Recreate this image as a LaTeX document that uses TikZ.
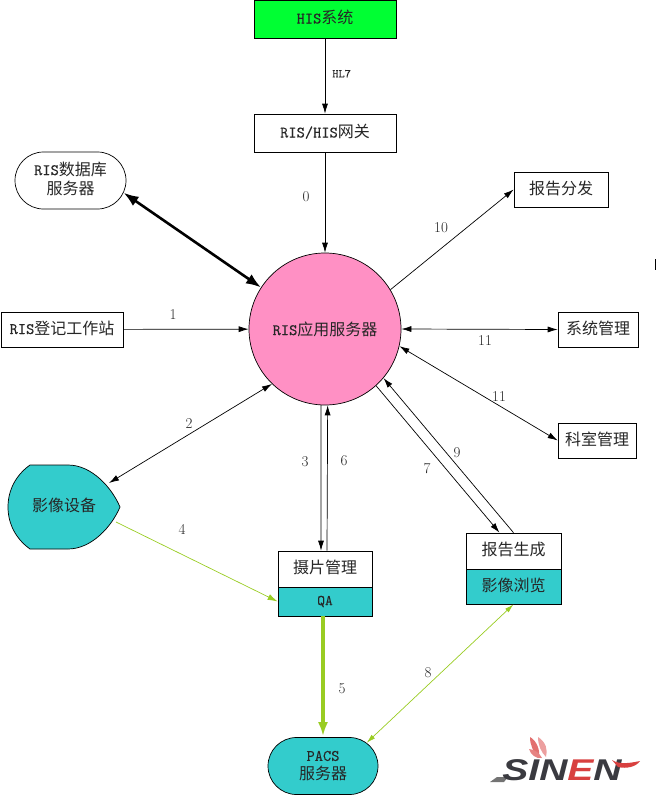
\documentclass[tikz,border=0pt]{standalone}
\usepackage{fontspec}
\usetikzlibrary{arrows.meta,shapes.misc}
\setmonofont{Latin Modern Mono}[RawFeature={embolden=0.25}]
\newfontfamily\cjkf{Noto Sans CJK SC}[Scale=1]
\newfontfamily\logof{Liberation Sans}
\newcommand{\cn}[1]{{\cjkf #1}}
\definecolor{teal1}{HTML}{33CCCC}
\definecolor{pink1}{HTML}{FF90C4}
\definecolor{green1}{HTML}{00FF33}
\definecolor{olive1}{HTML}{99CC22}
\definecolor{logoD}{HTML}{3A3A40}
\definecolor{logoR}{HTML}{D8403F}
\tikzset{
  x=1pt,y=-1pt,
  every node/.style={font=\fontsize{16}{19}\selectfont\ttfamily,inner sep=0pt,text=black!85},
  box/.style={draw=black,line width=0.7pt,minimum width=#1,fill=white},
  num/.style={font=\fontsize{15}{17}\selectfont\rmfamily,text=black!85,xshift=1pt,yshift=-1pt},
  conn/.style={draw=black,line width=0.7pt,-{Latex[length=10pt,width=6pt]}},
  both/.style={draw=black,line width=0.7pt,{Latex[length=10pt,width=6pt]}-{Latex[length=10pt,width=6pt]}},
  heavy/.style={draw=black,line width=2.6pt,{Latex[length=15pt,width=11pt]}-{Latex[length=15pt,width=11pt]}},
  gthin/.style={draw=olive1,line width=0.7pt,-{Latex[length=10pt,width=6pt]}},
  gboth/.style={draw=olive1,line width=0.7pt,{Latex[length=9pt,width=5pt]}-{Latex[length=9pt,width=5pt]}},
  gheavy/.style={draw=olive1,line width=3.2pt,-{Latex[length=14pt,width=10pt]}},
  pill/.style={rounded rectangle,draw=black,line width=0.7pt,align=center},
  up/.style={text height=13pt,text depth=4pt},
}
\begin{document}
\begin{tikzpicture}
\useasboundingbox (0,0) rectangle (656,795);
% nodes
\node[box=142pt,minimum height=38pt,fill=green1,up] (his) at (325,19) {HIS\cn{系统}};
\node[box=142pt,minimum height=38pt,up] (gw) at (325,133) {RIS/HIS\cn{网关}};
\node[box=94pt,minimum height=35pt,up] (dist) at (561,189.5) {\cn{报告分发}};
\node[box=80pt,minimum height=35pt,up] (sys) at (598,329.5) {\cn{系统管理}};
\node[box=78pt,minimum height=35pt,up] (dept) at (597,440.5) {\cn{科室管理}};
\node[box=122pt,minimum height=35pt,up] (reg) at (62,329.5) {RIS\cn{登记工作站}};
\node[circle,draw=black,line width=0.7pt,fill=pink1,minimum size=152pt] (app) at (325,329) {RIS\cn{应用服务器}};
\node[pill,minimum width=111pt,minimum height=57pt,fill=white] (db) at (70.5,180.5) {};
\node[align=center] (dbt) at (70.5,178.5) {RIS\cn{数据库}\\\cn{服务器}};
\fill[teal1,draw=black,line width=0.7pt] (30,465) -- (68,465) .. controls (92,465) and (112,488) .. (120,507) .. controls (112,526) and (92,549) .. (68,549) -- (30,549) .. controls (16,539) and (8,524) .. (8,507) .. controls (8,490) and (16,475) .. (30,465) -- cycle;
\node[up] (dev) at (64,507) {\cn{影像设备}};
\coordinate (devA) at (109,483);
\coordinate (devB) at (116,522);
\node[box=94pt,minimum height=36pt,up] (shot) at (325,569) {\cn{摄片管理}};
\node[box=94pt,minimum height=29pt,fill=teal1,font=\fontsize{15}{17}\selectfont\ttfamily] (qa) at (325,601.5) {QA};
\node[box=95pt,minimum height=36pt,up] (rep) at (513.5,551) {\cn{报告生成}};
\node[box=95pt,minimum height=35pt,fill=teal1,up] (view) at (513.5,586.5) {\cn{影像浏览}};
\node[pill,minimum width=110pt,minimum height=57pt,fill=teal1,font=\fontsize{16}{19}\selectfont\ttfamily] (pacs) at (323,766) {PACS\\\cn{服务器}};
% connectors
\draw[conn] (his) -- node[pos=0.47,right=7pt,font=\fontsize{12}{14}\selectfont\ttfamily] (hl7) {HL7} (gw);
\draw[conn] (gw) -- (app);
\draw[conn] (app.31.6) -- (dist.west);
\draw[both] (app.east) -- (sys.west);
\draw[both] (app.-13.7) -- (dept.west);
\draw[conn] (reg) -- (app);
\draw[heavy] (db.-13) -- (app.147);
\draw[both] (app.226) -- (devA);
\draw[gthin] (devB) -- (qa.west);
\draw[gheavy] ([xshift=-2pt]qa.south) -- ([yshift=1pt]pacs.north);
\draw[gboth] (view.south) -- (pacs.28);
\draw[conn] (app.-48.6) -- ([xshift=-14pt]rep.north);
\draw[conn] (rep.north) -- (app.-40.4);
\draw[conn] (app.-93) -- ([xshift=-4pt]shot.north);
\draw[conn] ([xshift=2pt]shot.north) -- (app.-88.5);
% labels
\node[num] (l0) at (305,196) {0};
\node[num] (l10) at (440,227) {10};
\node[num] (l11a) at (484,340) {11};
\node[num] (l11b) at (498,396) {11};
\node[num] (l1) at (172,314) {1};
\node[num] (l2) at (188,423) {2};
\node[num] (l3) at (304,461) {3};
\node[num] (l6) at (343,460) {6};
\node[num] (l4) at (181,528) {4};
\node[num] (l5) at (341,688) {5};
\node[num] (l7) at (426,468) {7};
\node[num] (l9) at (456,452) {9};
\node[num] (l8) at (427,672) {8};
% edge mark
\draw[black,line width=1pt] (655.5,259) -- (655.5,270);
% logo
\fill[black!55] (497,777) -- (508,777) -- (504,782) -- (490,782) -- cycle;
\node[anchor=center,text=logoD] (logo) at (562,770.5) {\scalebox{1.3}[1]{\fontsize{30}{30}\selectfont\logof\bfseries\itshape SIN\textcolor{logoR}{E}N}};
\fill[logoR] (612,760) .. controls (620,765) and (630,763) .. (640,761) .. controls (636,767) and (626,769) .. (618,767) -- cycle;
\fill[logoR!75] (530,737) .. controls (537,741) and (540,750) .. (539,757) .. controls (533,752) and (530,745) .. (530,737) -- cycle;
\fill[logoR!50] (538,737) .. controls (546,742) and (548,750) .. (546,757) .. controls (541,752) and (538,745) .. (538,737) -- cycle;
\fill[logoR!65] (529,749) .. controls (535,749) and (540,754) .. (542,758) .. controls (536,759) and (531,755) .. (529,749) -- cycle;
\end{tikzpicture}
\end{document}
